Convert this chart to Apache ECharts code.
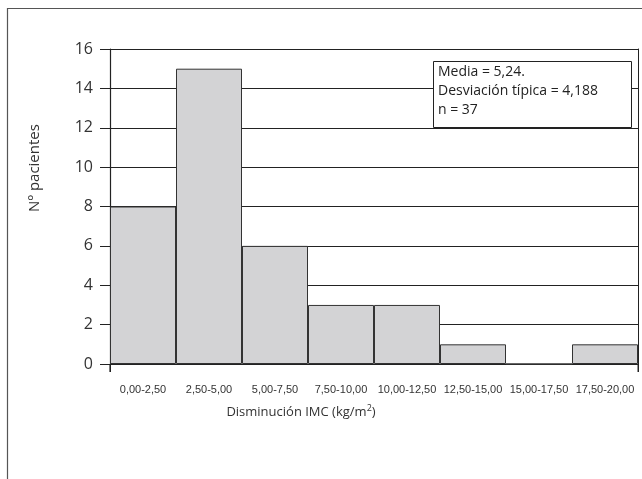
<!DOCTYPE html>
<html><head><meta charset="utf-8">
<script src="https://cdn.jsdelivr.net/npm/echarts@6/dist/echarts.min.js"></script>
<style>html,body{margin:0;padding:0;background:#fff}#c{width:642px;height:479px}</style>
</head><body><div id="c"></div>
<script>
var categories = ['0,00-2,50','2,50-5,00','5,00-7,50','7,50-10,00','10,00-12,50','12,50-15,00','15,00-17,50','17,50-20,00'];
var counts = [8, 15, 6, 3, 3, 1, 0, 1];
var yTicks = [0, 2, 4, 6, 8, 10, 12, 14, 16];
var statsLines = ['Media = 5,24.', 'Desviación típica = 4,188', 'n = 37'];

var chart = echarts.init(document.getElementById('c'));
var font = '"Open Sans", "Noto Sans", sans-serif';
chart.setOption({
  animation: false,
  grid: {left: 110, right: 4, top: 49, bottom: 115},
  xAxis: {
    type: 'category', data: categories, boundaryGap: true,
    axisLine: {show: false},
    axisTick: {show: true, length: 8, lineStyle: {color: '#222'},
      interval: function (i) { return i === 0; }},
    axisLabel: {color: '#333', fontSize: 11, fontFamily: '"Liberation Sans", Arial, sans-serif', margin: 20, interval: 0}
  },
  yAxis: [{
    type: 'value', min: yTicks[0], max: yTicks[yTicks.length - 1], interval: 2,
    axisLine: {show: true, lineStyle: {color: '#222', width: 1.2}},
    axisTick: {show: true, length: 10, lineStyle: {color: '#222'}},
    axisLabel: {color: '#333', fontSize: 16, fontFamily: font, margin: 17},
    splitLine: {show: true, lineStyle: {color: '#222', width: 1}}
  }, {
    type: 'value', position: 'right', min: yTicks[0], max: yTicks[yTicks.length - 1], interval: 2,
    axisLine: {show: true, lineStyle: {color: '#222', width: 1}},
    axisTick: {show: false}, axisLabel: {show: false}, splitLine: {show: false}
  }],
  series: [{
    type: 'bar', data: counts, barCategoryGap: 0,
    itemStyle: {color: '#d3d3d5', borderColor: '#333', borderWidth: 1}
  }],
  graphic: [
    {type: 'rect', silent: true, shape: {x: 7.5, y: 8.5, width: 700, height: 600},
     style: {fill: 'none', stroke: '#555', lineWidth: 1.2}, z: 100},
    {type: 'line', shape: {x1: 110, y1: 364, x2: 110, y2: 372}, style: {stroke: '#222', lineWidth: 1.2}, z: 100},
    {type: 'line', shape: {x1: 638, y1: 364, x2: 638, y2: 372}, style: {stroke: '#222', lineWidth: 1}, z: 100},
    {type: 'rect', shape: {x: 433.5, y: 61.5, width: 198, height: 66},
     style: {fill: '#fff', stroke: '#222', lineWidth: 1}, z: 100},
    {type: 'text', x: 438, y: 63, z: 101,
     style: {text: statsLines.join('\n'), fill: '#222', fontSize: 14, lineHeight: 19, fontFamily: font}},
    {type: 'text', x: 35, y: 168, rotation: Math.PI / 2, z: 101,
     style: {text: 'Nº pacientes', fill: '#333', fontSize: 15, fontFamily: font, align: 'center', verticalAlign: 'middle'}},
    {type: 'text', x: 301, y: 412, z: 101,
     style: {text: 'Disminución IMC (kg/m{sup|2})', fill: '#333', fontSize: 13, fontFamily: font, align: 'center', verticalAlign: 'middle',
       rich: {sup: {fontSize: 9, fontFamily: font, fill: '#333', verticalAlign: 'top', padding: [0, 0, 8, 0]}}}}
  ]
});
</script></body></html>
